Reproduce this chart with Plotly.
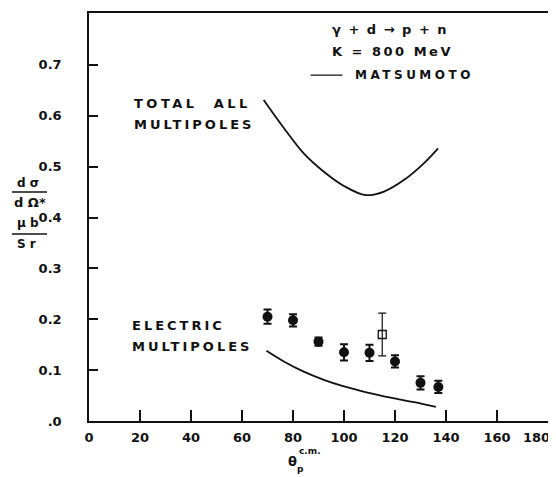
import plotly.graph_objects as go

# --- data ---
total_x = [68.5, 76.4, 84.2, 92.1, 100, 108.5, 115.7, 123.6, 131.4, 136.9]
total_y = [0.631, 0.576, 0.526, 0.490, 0.462, 0.444, 0.451, 0.474, 0.507, 0.536]

elec_x = [69.6, 76.4, 84.2, 92.1, 100, 109.2, 118.3, 127.5, 136]
elec_y = [0.138, 0.117, 0.097, 0.081, 0.068, 0.056, 0.046, 0.037, 0.028]

pts_x = [70, 80, 90, 100, 110, 120, 130, 137]
pts_y = [0.205, 0.198, 0.156, 0.135, 0.134, 0.117, 0.075, 0.067]
pts_err = [0.014, 0.012, 0.008, 0.016, 0.016, 0.012, 0.013, 0.012]

sq_x = [115]
sq_y = [0.170]
sq_err = [0.042]

x_ticks = [0, 20, 40, 60, 80, 100, 120, 140, 160, 180]
x_ticktext = ["0", "20", "40", "60", "80", "100", "120", "140", "160", ""]
y_ticks = [0, 0.1, 0.2, 0.3, 0.4, 0.5, 0.6, 0.7]
y_ticktext = [".0", "0.1", "0.2", "0.3", "0.4", "0.5", "0.6", "0.7"]

FONT = "DejaVu Sans"
BLACK = "#111111"

fig = go.Figure()

fig.add_trace(go.Scatter(x=total_x, y=total_y, mode="lines", line=dict(color=BLACK, width=1.8, shape="spline"),
                         showlegend=False, hoverinfo="skip"))
fig.add_trace(go.Scatter(x=elec_x, y=elec_y, mode="lines", line=dict(color=BLACK, width=1.8, shape="spline"),
                         showlegend=False, hoverinfo="skip"))
fig.add_trace(go.Scatter(x=pts_x, y=pts_y, mode="markers",
                         marker=dict(symbol="circle", size=10, color=BLACK),
                         error_y=dict(type="data", array=pts_err, color=BLACK, thickness=2, width=4),
                         showlegend=False))
fig.add_trace(go.Scatter(x=sq_x, y=sq_y, mode="markers",
                         marker=dict(symbol="square-open", size=8, color=BLACK, line=dict(width=1.3)),
                         error_y=dict(type="data", array=sq_err, color=BLACK, thickness=1.2, width=4),
                         showlegend=False))

def ann(text, x, y, size=12, xanchor="left", xref="x", yref="y", spacing=None):
    if spacing:
        text = f'<span style="letter-spacing:{spacing}px">{text}</span>'
    fig.add_annotation(text=text, x=x, y=y, xref=xref, yref=yref, showarrow=False,
                       xanchor=xanchor, yanchor="middle",
                       font=dict(family=FONT, size=size, color=BLACK, weight="bold"))

# in-plot labels
ann("γ + d → p + n", 94.7, 0.769, size=13, spacing=1.5)
ann("K = 800 MeV", 94.7, 0.726, size=13, spacing=2.5)
ann("MATSUMOTO", 103.4, 0.680, size=12, spacing=3.5)
fig.add_shape(type="line", x0=86.9, x1=99.4, y0=0.680, y1=0.680, xref="x", yref="y",
              line=dict(color=BLACK, width=1.2))
ann("TOTAL  ALL", 16.9, 0.625, size=13, spacing=3.5)
ann("MULTIPOLES", 16.9, 0.582, size=13, spacing=3)
ann("ELECTRIC", 16.1, 0.187, size=13, spacing=3)
ann("MULTIPOLES", 16.1, 0.147, size=13, spacing=3)

# page pixel -> paper coords (plot area spans page x 89..548, y 13..421)
def px2paper_x(px):
    return (px - 89) / 459.0

def py2paper_y(py):
    return (421 - py) / 408.0

# last x tick label, kept inside the page
ann("180", px2paper_x(536), py2paper_y(437), size=13, xanchor="center", xref="paper", yref="paper")

# x-axis title (theta with superscript/subscript)
ann("θ", px2paper_x(292), py2paper_y(461), size=13, xanchor="center", xref="paper", yref="paper")
ann("c.m.", px2paper_x(310), py2paper_y(451), size=9, xanchor="center", xref="paper", yref="paper")
ann("p", px2paper_x(300), py2paper_y(469), size=9, xanchor="center", xref="paper", yref="paper")

# y-axis title as stacked fractions
ann("d σ", px2paper_x(28), py2paper_y(183), size=12, xanchor="center", xref="paper", yref="paper")
ann("d Ω*", px2paper_x(30), py2paper_y(202), size=13, xanchor="center", xref="paper", yref="paper")
ann("μ b", px2paper_x(28), py2paper_y(223), size=12, xanchor="center", xref="paper", yref="paper")
ann("S r", px2paper_x(27), py2paper_y(244), size=12, xanchor="center", xref="paper", yref="paper")
for yy in (192, 234):
    fig.add_shape(type="line", xref="paper", yref="paper",
                  x0=px2paper_x(12), x1=px2paper_x(47), y0=py2paper_y(yy), y1=py2paper_y(yy),
                  line=dict(color=BLACK, width=1.5))

fig.update_xaxes(range=[0, 180], tickvals=x_ticks, ticktext=x_ticktext, ticks="inside", ticklen=11,
                 tickwidth=1.5, tickcolor=BLACK, showline=True, linecolor=BLACK, linewidth=1.5,
                 mirror=True, showgrid=False, zeroline=False, ticklabelstandoff=4, automargin=False,
                 tickfont=dict(family=FONT, size=13, color=BLACK, weight="bold"))
fig.update_yaxes(range=[0, 0.802], tickvals=y_ticks, ticktext=y_ticktext, ticks="inside", ticklen=9,
                 tickwidth=1.5, tickcolor=BLACK, showline=True, linecolor=BLACK, linewidth=1.5,
                 mirror=True, showgrid=False, zeroline=False, ticklabelstandoff=23, automargin=False,
                 tickfont=dict(family=FONT, size=13, color=BLACK, weight="bold"))

# the page body has an 8px margin, so the figure is 8px smaller than the window
fig.update_layout(width=548, height=469, autosize=False,
                  margin=dict(l=81, r=8, t=5, b=56),
                  plot_bgcolor="white", paper_bgcolor="white", showlegend=False)

fig.write_html("out.html")
